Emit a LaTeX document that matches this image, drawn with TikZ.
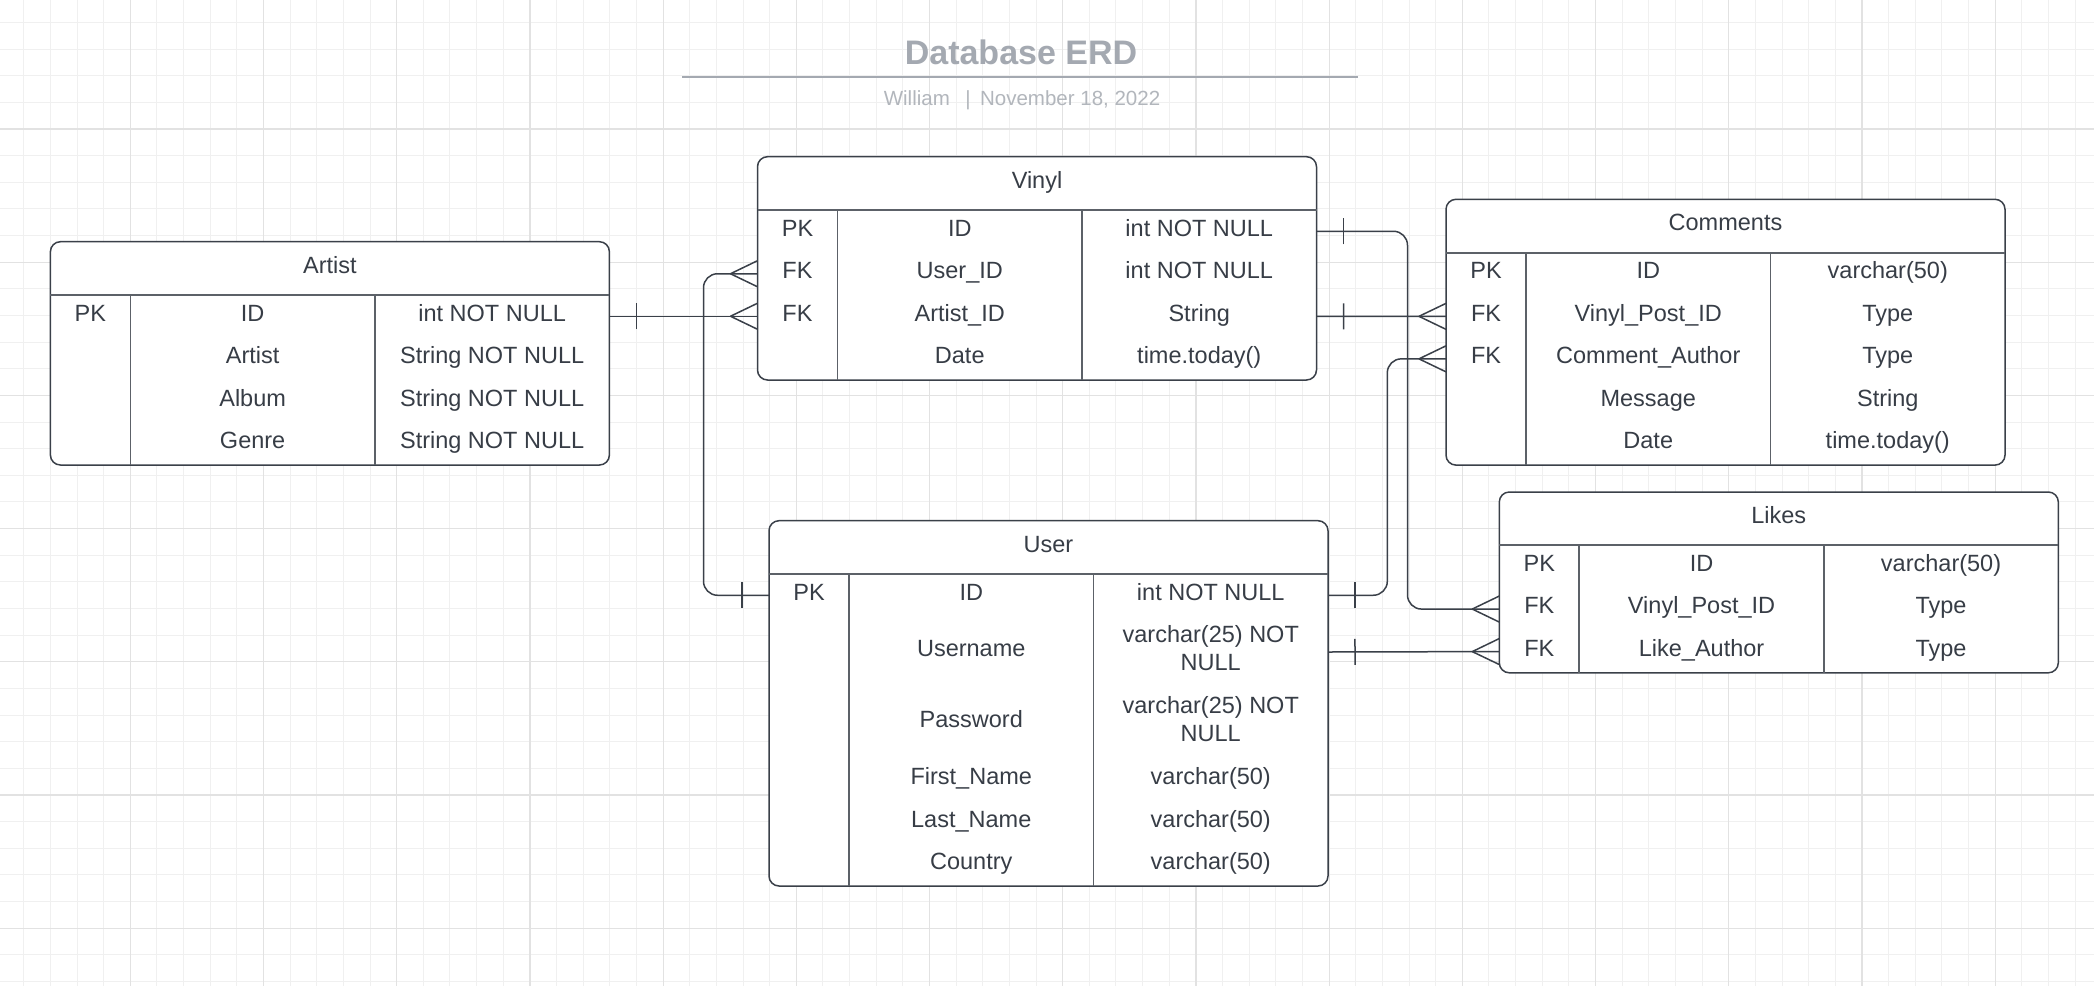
\documentclass[tikz,border=0pt]{standalone}
\usepackage{fontspec}
\setmainfont{Liberation Sans}
\usetikzlibrary{decorations.markings}

\definecolor{erdline}{RGB}{58,64,73}
\definecolor{erdsep}{RGB}{92,97,104}
\definecolor{erdtext}{RGB}{55,61,70}
\definecolor{titlegray}{RGB}{164,169,177}
\definecolor{subgray}{RGB}{178,182,188}
\definecolor{gridminor}{RGB}{240,240,240}
\definecolor{gridmajor}{RGB}{226,226,226}

\newcommand\cellstrut{\vphantom{(}}

\tikzset{
  entity/.style={draw=erdline, line width=1.5pt, fill=white, rounded corners=10pt,
    minimum width=559pt, inner sep=0pt, outer sep=0pt},
  rowbox/.style={minimum width=559pt, minimum height=0pt, inner sep=0pt, outer sep=0pt},
  erdcell/.style={text=erdtext, font=\fontsize{23.5}{28.3}\selectfont, align=center, inner sep=0pt},
  hdrline/.style={draw=erdsep, line width=2pt},
  colline/.style={draw=erdsep, line width=1.8pt},
  relation/.style={draw=erdline, line width=1.5pt, rounded corners=14pt,
    postaction={decorate, decoration={markings,
      mark=at position 27pt with {\draw[erdline, line width=1.5pt, sharp corners] (0,-13pt) -- (0,13pt);},
      mark=at position 0.9999 with {\draw[erdline, line width=1.5pt, sharp corners] (-27pt,0) -- (0,13pt) (-27pt,0) -- (0,-13pt);}}}},
}

% table frame: name, left, top, height, title
\newcommand\erdtable[5]{%
  \node[entity, minimum height=#4pt, anchor=north west] (#1) at (#2,#3) {};
  \node[erdcell] (#1-title) at ([yshift=-25.4pt]#1.north) {\cellstrut#5\cellstrut};
  \draw[hdrline] ([yshift=-53.3pt]#1.north west) -- ([yshift=-53.3pt]#1.north east);
  \draw[colline] ([xshift=80pt,yshift=-53.3pt]#1.north west) -- ([xshift=80pt]#1.south west);
  \draw[colline] ([xshift=324.5pt,yshift=-53.3pt]#1.north west) -- ([xshift=324.5pt]#1.south west);
}
% the three cells of one row
\newcommand\erdcells[4]{%
  \node[erdcell] (#1-k) at ([xshift=40pt,yshift=1.3pt]#1.west) {\cellstrut#2\cellstrut};
  \node[erdcell] (#1-f) at ([xshift=202.25pt,yshift=1.3pt]#1.west) {\cellstrut#3\cellstrut};
  \node[erdcell] (#1-t) at ([xshift=441.75pt,yshift=1.3pt]#1.west) {\cellstrut#4\cellstrut};
}

\begin{document}
\begin{tikzpicture}[x=1pt,y=-1pt]
\useasboundingbox[fill=white] (0,0) rectangle (2094,986);

% grid
\foreach \k in {1,...,78} \draw[gridminor, line width=1pt] ({-2.9+26.64*\k},0) -- ++(0,986);
\foreach \k in {1,...,37} \draw[gridminor, line width=1pt] (0,{-4.2+26.64*\k}) -- ++(2094,0);
\foreach \k in {1,...,15} \draw[gridmajor, line width=1.2pt] ({-2.9+133.2*\k},0) -- ++(0,986);
\foreach \k in {1,...,7} \draw[gridmajor, line width=1.2pt] (0,{-4.2+133.2*\k}) -- ++(2094,0);

% title
\node[text=titlegray, font=\fontsize{34}{40}\selectfont\bfseries] (title) at (1021,52.5) {Database ERD};
\draw[titlegray, line width=2.3pt] (682.3,77.3) -- (1357.5,77.3);
\node[text=subgray, font=\fontsize{20.5}{24}\selectfont, anchor=base] (subtitle) at (1022,105.7)
  {William\hspace{15.5pt}|\hspace{9.5pt}November 18, 2022};

% Artist
\erdtable{artist}{50.4}{241.7}{223.3}{Artist}
\foreach \k/\f/\t [count=\i] in {PK/ID/int NOT NULL, {}/Artist/String NOT NULL,
    {}/Album/String NOT NULL, {}/Genre/String NOT NULL}{
  \node[rowbox] (artist-\i) at (329.9,{295+42.5*\i-21.25}) {};
  \erdcells{artist-\i}{\k}{\f}{\t}
}

% Vinyl
\erdtable{vinyl}{757.5}{156.7}{223.3}{Vinyl}
\foreach \k/\f/\t [count=\i] in {PK/ID/int NOT NULL, FK/User\_ID/int NOT NULL,
    FK/Artist\_ID/String, {}/Date/time.today()}{
  \node[rowbox] (vinyl-\i) at (1037,{210+42.5*\i-21.25}) {};
  \erdcells{vinyl-\i}{\k}{\f}{\t}
}

% Comments
\erdtable{comments}{1446}{199.3}{265.8}{Comments}
\foreach \k/\f/\t [count=\i] in {PK/ID/varchar(50), FK/Vinyl\_Post\_ID/Type,
    FK/Comment\_Author/Type, {}/Message/String, {}/Date/time.today()}{
  \node[rowbox] (comments-\i) at (1725.5,{252.6+42.5*\i-21.25}) {};
  \erdcells{comments-\i}{\k}{\f}{\t}
}

% Likes
\erdtable{likes}{1499.3}{492}{180.8}{Likes}
\foreach \k/\f/\t [count=\i] in {PK/ID/varchar(50), FK/Vinyl\_Post\_ID/Type,
    FK/Like\_Author/Type}{
  \node[rowbox] (likes-\i) at (1778.8,{545.3+42.5*\i-21.25}) {};
  \erdcells{likes-\i}{\k}{\f}{\t}
}

% User
\erdtable{user}{769}{520.7}{365.3}{User}
\foreach \y/\k/\f/\t [count=\i] in {595.25/PK/ID/int NOT NULL,
    652/{}/Username/{varchar(25) NOT\\NULL}, 723/{}/Password/{varchar(25) NOT\\NULL},
    779.75/{}/First\_Name/varchar(50), 822.25/{}/Last\_Name/varchar(50),
    864.75/{}/Country/varchar(50)}{
  \node[rowbox] (user-\i) at (1048.5,\y) {};
  \erdcells{user-\i}{\k}{\f}{\t}
}

% relations
\draw[relation] (artist-1.east) -- (vinyl-3.west);
\draw[relation] (user-1.west) -- ++(-65.5,0) |- (vinyl-2.west);
\draw[relation] (vinyl-1.east) -- ++(91,0) |- (likes-2.west);
\draw[relation] (vinyl-3.east) -- (comments-2.west);
\draw[relation] (user-1.east) -- ++(59.3,0) |- (comments-3.west);
\draw[relation] (user-2.east) -- (likes-3.west);
\end{tikzpicture}
\end{document}
